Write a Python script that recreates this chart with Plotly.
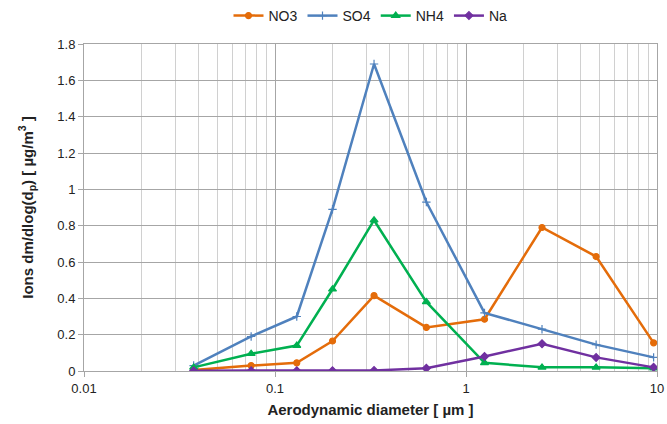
import plotly.graph_objects as go

diameters = [0.0375, 0.075, 0.13, 0.2, 0.33, 0.62, 1.25, 2.5, 4.8, 9.6]
no3 = [0.005, 0.03, 0.045, 0.165, 0.415, 0.24, 0.285, 0.79, 0.63, 0.155]
so4 = [0.03, 0.19, 0.30, 0.89, 1.69, 0.93, 0.32, 0.23, 0.145, 0.075]
nh4 = [0.02, 0.095, 0.14, 0.45, 0.83, 0.38, 0.045, 0.02, 0.02, 0.015]
na = [0.002, 0.002, 0.002, 0.002, 0.003, 0.015, 0.08, 0.15, 0.075, 0.02]

series = [
    ("NO3", no3, "#E46C0A", "circle", 6),
    ("SO4", so4, "#4F81BD", "cross-thin-open", 6),
    ("NH4", nh4, "#00B050", "triangle-up", 7),
    ("Na", na, "#7030A0", "diamond", 6),
]

fig = go.Figure()
for name, vals, color, sym, size in series:
    fig.add_trace(go.Scatter(
        x=diameters, y=vals, name=name, mode="lines+markers",
        line=dict(color=color, width=2.5),
        marker=dict(symbol=sym, size=size, color=color,
                    line=dict(color=color, width=1.2)),
    ))

font = "Liberation Sans, Arial, sans-serif"
fig.update_layout(
    width=667, height=424,
    margin=dict(l=84, r=10, t=44, b=53, autoexpand=False),
    paper_bgcolor="white", plot_bgcolor="white",
    font=dict(family=font, size=13, color="#222"),
    legend=dict(orientation="h", x=0.5, xanchor="center", y=1.0, yanchor="top",
                yref="container", font=dict(size=14), itemwidth=30,
                tracegroupgap=0),
    showlegend=True,
)
fig.update_xaxes(
    type="log", range=[-2, 1],
    tickvals=[0.01, 0.1, 1, 10], ticktext=["0.01", "0.1", "1", "10"],
    showgrid=True, gridcolor="#A6A6A6", gridwidth=1,
    minor=dict(showgrid=True, gridcolor="#D0D0D0", gridwidth=1,
               tickvals=[m * d for d in (0.01, 0.1, 1) for m in range(2, 10)]),
    showline=True, linecolor="#A6A6A6", mirror=True,
    ticks="outside", ticklen=5, tickcolor="#A6A6A6",
    zeroline=False,
    title=dict(text="<b>Aerodynamic diameter [ µm ]</b>", font=dict(size=15), standoff=9),
)
fig.update_yaxes(
    range=[0, 1.8],
    tickvals=[0, 0.2, 0.4, 0.6, 0.8, 1.0, 1.2, 1.4, 1.6, 1.8],
    ticktext=["0", "0.2", "0.4", "0.6", "0.8", "1", "1.2", "1.4", "1.6", "1.8"],
    showgrid=True, gridcolor="#A6A6A6", gridwidth=1,
    showline=True, linecolor="#A6A6A6", mirror=True,
    ticks="outside", ticklen=5, tickcolor="#A6A6A6",
    zeroline=False,
    title=dict(text="<b>Ions dm/dlog(d<sub>p</sub>) [ µg/m<sup>3</sup> ]</b>",
               font=dict(size=15), standoff=20),
)
fig.write_html("out.html")
